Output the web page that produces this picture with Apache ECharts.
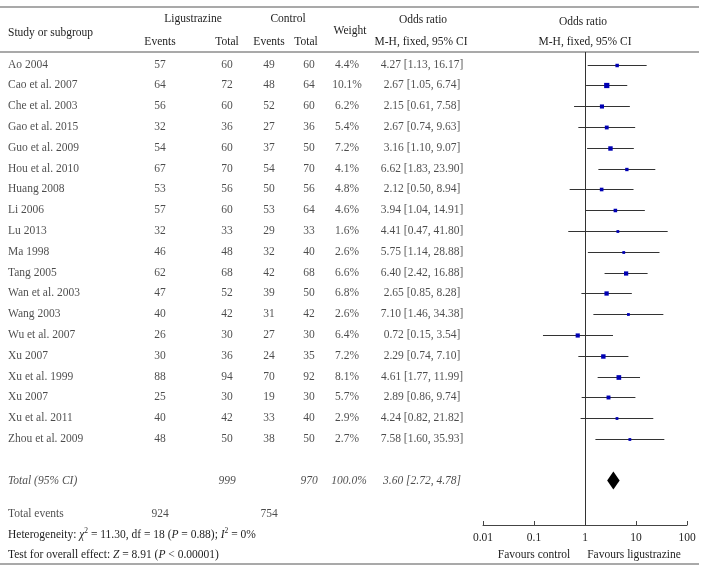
<!DOCTYPE html>
<html>
<head>
<meta charset="utf-8">
<script src="https://cdn.jsdelivr.net/npm/echarts@6/dist/echarts.min.js"></script>
<style>html,body{margin:0;padding:0;background:#fff;}#c{width:704px;height:573px;}</style>
</head>
<body>
<div id="c"></div>
<script>
const studies = ['Ao 2004','Cao et al. 2007','Che et al. 2003','Gao et al. 2015','Guo et al. 2009','Hou et al. 2010','Huang 2008','Li 2006','Lu 2013','Ma 1998','Tang 2005','Wan et al. 2003','Wang 2003','Wu et al. 2007','Xu 2007','Xu et al. 1999','Xu 2007','Xu et al. 2011','Zhou et al. 2009'];
const ligEvents = [57,64,56,32,54,67,53,57,32,46,62,47,40,26,30,88,25,40,48];
const ligTotal  = [60,72,60,36,60,70,56,60,33,48,68,52,42,30,36,94,30,42,50];
const ctlEvents = [49,48,52,27,37,54,50,53,29,32,42,39,31,27,24,70,19,33,38];
const ctlTotal  = [60,64,60,36,50,70,56,64,33,40,68,50,42,30,35,92,30,40,50];
const weights   = [4.4,10.1,6.2,5.4,7.2,4.1,4.8,4.6,1.6,2.6,6.6,6.8,2.6,6.4,7.2,8.1,5.7,2.9,2.7];
const orValues  = [4.27,2.67,2.15,2.67,3.16,6.62,2.12,3.94,4.41,5.75,6.40,2.65,7.10,0.72,2.29,4.61,2.89,4.24,7.58];
const ciLow     = [1.13,1.05,0.61,0.74,1.10,1.83,0.50,1.04,0.47,1.14,2.42,0.85,1.46,0.15,0.74,1.77,0.86,0.82,1.60];
const ciHigh    = [16.17,6.74,7.58,9.63,9.07,23.90,8.94,14.91,41.80,28.88,16.88,8.28,34.38,3.54,7.10,11.99,9.74,21.82,35.93];
const totalLig = 999, totalCtl = 970, totalWeight = '100.0%';
const pooled = [3.60, 2.72, 4.78];
const totalEvents = [924, 754];
const axisTicks = [0.01, 0.1, 1, 10, 100];

// layout
const FONT = 'Liberation Serif';
const FS = 11.5;
const TXT = '#1e1e1e';
const ROW0 = 64.5, ROWH = 20.8;
const rowY = i => ROW0 + i * ROWH;
const totalRowIndex = studies.length + 1;
const COL = {name: 8, ligE: 160, ligT: 227, ctlE: 269, ctlT: 309, w: 347, or: 422};
const fmtCI = (v, l, h) => v.toFixed(2) + ' [' + l.toFixed(2) + ', ' + h.toFixed(2) + ']';

function textSeries(x, ys, texts, align, italic) {
  return {
    type: 'scatter', xAxisIndex: 1, yAxisIndex: 1, symbolSize: 1, silent: true,
    itemStyle: {color: 'rgba(0,0,0,0)'}, clip: false,
    data: ys.map((y, i) => ({value: [x, y], t: texts[i]})),
    label: {show: true, position: 'inside', align: align, verticalAlign: 'middle',
      fontFamily: FONT, fontSize: FS, color: TXT, fontStyle: italic ? 'italic' : 'normal',
      formatter: p => p.data.t}
  };
}
const ys = studies.map((s, i) => rowY(i));
const ty = rowY(totalRowIndex);
const series = [
  textSeries(COL.name, ys, studies, 'left'),
  textSeries(COL.ligE, ys, ligEvents, 'center'),
  textSeries(COL.ligT, ys, ligTotal, 'center'),
  textSeries(COL.ctlE, ys, ctlEvents, 'center'),
  textSeries(COL.ctlT, ys, ctlTotal, 'center'),
  textSeries(COL.w, ys, weights.map(w => w.toFixed(1) + '%'), 'center'),
  textSeries(COL.or, ys, orValues.map((v, i) => fmtCI(v, ciLow[i], ciHigh[i])), 'center'),
  textSeries(COL.name, [ty], ['Total (95% CI)'], 'left', true),
  textSeries(COL.ligT, [ty], [totalLig], 'center', true),
  textSeries(COL.ctlT, [ty], [totalCtl], 'center', true),
  textSeries(COL.w + 2, [ty], [totalWeight], 'center', true),
  textSeries(COL.or, [ty], [fmtCI(pooled[0], pooled[1], pooled[2])], 'center', true),
  textSeries(COL.name, [514], ['Total events'], 'left'),
  textSeries(COL.ligE, [514], [totalEvents[0]], 'center'),
  textSeries(COL.ctlE, [514], [totalEvents[1]], 'center'),
  // CI lines + squares
  {
    type: 'custom', xAxisIndex: 0, yAxisIndex: 0, silent: true,
    data: orValues.map((v, i) => [v, ciLow[i], ciHigh[i], rowY(i), weights[i]]),
    renderItem: (params, api) => {
      const y = api.value(3);
      const pL = api.coord([api.value(1), y]);
      const pH = api.coord([api.value(2), y]);
      const pC = api.coord([api.value(0), y]);
      const s = Math.max(2.8, 1.65 * Math.sqrt(api.value(4)));
      const yy = Math.round(pC[1]) + 0.5;
      return {type: 'group', children: [
        {type: 'line', shape: {x1: pL[0], y1: yy, x2: pH[0], y2: yy}, style: {stroke: '#333', lineWidth: 1}},
        {type: 'rect', shape: {x: pC[0] - s / 2, y: yy - s / 2, width: s, height: s}, style: {fill: '#0000b4'}}
      ]};
    },
    markLine: {
      silent: true, symbol: 'none', label: {show: false},
      lineStyle: {color: '#333', width: 1, type: 'solid'},
      data: [{xAxis: 1}]
    }
  },
  // pooled diamond
  {
    type: 'custom', xAxisIndex: 0, yAxisIndex: 0, silent: true,
    data: [[pooled[0], pooled[1], pooled[2], ty]],
    renderItem: (params, api) => {
      const y = api.value(3);
      const c = api.coord([api.value(0), y]);
      const l = api.coord([api.value(1), y]);
      const h = api.coord([api.value(2), y]);
      return {type: 'polygon', shape: {points: [[l[0], c[1]], [c[0], c[1] - 9], [h[0], c[1]], [c[0], c[1] + 9]]},
        style: {fill: '#000'}};
    }
  }
];

const T = (x, y, text, align, extra) => Object.assign({
  type: 'text', x: x, y: y,
  style: Object.assign({text: text, font: FS + 'px "' + FONT + '"', fill: TXT, align: align || 'left', verticalAlign: 'middle'}, extra || {})
});
const hline = (y) => ({type: 'line', shape: {x1: 0, y1: y, x2: 699, y2: y}, style: {stroke: '#555', lineWidth: 1.2}});
const rich = {
  i: {fontStyle: 'italic', fontFamily: FONT, fontSize: FS, fill: TXT},
  s: {fontFamily: FONT, fontSize: 7.5, fill: TXT, verticalAlign: 'top', lineHeight: 16},
  n: {fontFamily: FONT, fontSize: FS, fill: TXT, lineHeight: 14}
};

const chart = echarts.init(document.getElementById('c'), null, {renderer: 'canvas'});
chart.setOption({
  animation: false,
  backgroundColor: '#fff',
  grid: [
    {left: 483, right: 17, top: 52, bottom: 48, containLabel: false},
    {left: 0, right: 0, top: 0, bottom: 0, containLabel: false}
  ],
  xAxis: [
    {type: 'log', logBase: 10, min: axisTicks[0], max: axisTicks[axisTicks.length - 1], gridIndex: 0,
     axisLine: {show: true, lineStyle: {color: '#444', width: 1}},
     axisTick: {show: true, inside: true, length: 4, lineStyle: {color: '#444'}},
     splitLine: {show: false}, minorTick: {show: false},
     axisLabel: {fontFamily: FONT, fontSize: FS, color: TXT, margin: 7,
       formatter: v => String(+(+v).toPrecision(2))}},
    {type: 'value', min: 0, max: 704, gridIndex: 1, show: false}
  ],
  yAxis: [
    {type: 'value', min: 52, max: 525, inverse: true, gridIndex: 0, show: false},
    {type: 'value', min: 0, max: 573, inverse: true, gridIndex: 1, show: false}
  ],
  series: series,
  graphic: [
    hline(7), hline(52), hline(564),
    T(8, 33, 'Study or subgroup'),
    T(193, 19, 'Ligustrazine', 'center'),
    T(288, 19, 'Control', 'center'),
    T(160, 42, 'Events', 'center'),
    T(227, 42, 'Total', 'center'),
    T(269, 42, 'Events', 'center'),
    T(306, 42, 'Total', 'center'),
    T(350, 31, 'Weight', 'center'),
    T(423, 20, 'Odds ratio', 'center'),
    T(421, 42, 'M-H, fixed, 95% CI', 'center'),
    T(583, 22, 'Odds ratio', 'center'),
    T(585, 42, 'M-H, fixed, 95% CI', 'center'),
    T(534, 555, 'Favours control', 'center'),
    T(634, 555, 'Favours ligustrazine', 'center'),
    {type: 'text', x: 8, y: 535, style: {
      text: '{n|Heterogeneity: }{i|χ}{s|2}{n| = 11.30, df = 18 (}{i|P}{n| = 0.88); }{i|I}{s|2}{n| = 0%}',
      rich: rich, verticalAlign: 'middle', align: 'left'}},
    {type: 'text', x: 8, y: 555, style: {
      text: '{n|Test for overall effect: }{i|Z}{n| = 8.91 (}{i|P}{n| < 0.00001)}',
      rich: rich, verticalAlign: 'middle', align: 'left'}}
  ]
});
</script>
</body>
</html>
